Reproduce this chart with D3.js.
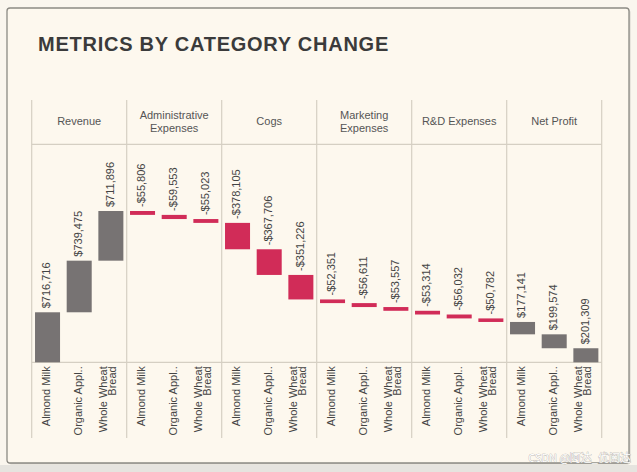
<!DOCTYPE html>
<html>
<head>
<meta charset="utf-8">
<script src="https://cdn.jsdelivr.net/npm/d3@7"></script>
<style>
  html, body { margin: 0; padding: 0; background: #f6f3ec; }
  svg { display: block; }
</style>
</head>
<body>
<svg id="chart" width="637" height="472"></svg>
<script>
const metrics = ["Revenue", "Administrative Expenses", "Cogs", "Marketing Expenses", "R&D Expenses", "Net Profit"];
const products = ["Almond Milk", "Organic Appl..", "Whole Wheat Bread"];
const revenue = [716716, 739475, 711896];
const adminExp = [-55806, -59553, -55023];
const cogs = [-378105, -367706, -351226];
const marketingExp = [-52351, -56611, -53557];
const rdExp = [-53314, -56032, -50782];
const netProfit = [-177141, -199574, -201309];
const seriesValues = [revenue, adminExp, cogs, marketingExp, rdExp, netProfit];
const barKind = ["total", "cost", "cost", "cost", "cost", "total"];

const W = 637, H = 472;
const svg = d3.select("#chart");

// background strip & card
svg.append("rect").attr("x", 0).attr("y", 0).attr("width", W).attr("height", H).attr("fill", "#faf6ee");
svg.append("rect").attr("x", 0).attr("y", 465).attr("width", W).attr("height", 7).attr("fill", "#e6e4df");
svg.append("rect").attr("x", 8.5).attr("y", 9.5).attr("width", 622).attr("height", 455).attr("rx", 3)
  .attr("fill", "#d6d3cc");
svg.append("rect").attr("x", 7).attr("y", 8).attr("width", 622).attr("height", 455).attr("rx", 3)
  .attr("fill", "#fdf8ee").attr("stroke", "#8c8a84").attr("stroke-width", 1.3);

svg.append("text").attr("x", 38).attr("y", 51)
  .attr("font-family", "Liberation Sans, Arial, sans-serif").attr("font-weight", "bold")
  .attr("font-size", 20).attr("letter-spacing", 0.75).attr("fill", "#3b3b3b").text("METRICS BY CATEGORY CHANGE");

// layout
const left = 31.7, right = 601.7, headerTop = 100, headerBottom = 144.3, axisY = 362.3, labelBottom = 438;
const fx = d3.scaleBand().domain(metrics).range([left, right]).padding(0);
const x = d3.scaleBand().domain(products).range([0, fx.bandwidth()]).paddingInner(0.21).paddingOuter(0.105);

// build waterfall
const rows = [];
let run = 0;
metrics.forEach((m, i) => {
  products.forEach((p, j) => {
    const v = seriesValues[i][j];
    const start = run;
    run += v;
    rows.push({ metric: m, product: p, value: v, start, end: run, kind: barKind[i] });
  });
});
const maxTotal = d3.sum(revenue);
const y = d3.scaleLinear().domain([0, maxTotal]).range([axisY, 211]);

const gridColor = "#d5cfc3";
const g = svg.append("g");
fx.domain().concat(["_end"]).forEach((m, i) => {
  const xx = i < metrics.length ? fx(m) : right;
  g.append("line").attr("x1", xx).attr("x2", xx).attr("y1", headerTop).attr("y2", labelBottom)
    .attr("stroke", gridColor).attr("stroke-width", 1.2);
});
g.append("line").attr("x1", left).attr("x2", right).attr("y1", headerBottom).attr("y2", headerBottom)
  .attr("stroke", gridColor).attr("stroke-width", 1.2);
g.append("line").attr("x1", left).attr("x2", right).attr("y1", axisY).attr("y2", axisY)
  .attr("stroke", gridColor).attr("stroke-width", 1.2);

// headers
const font = "Liberation Sans, Arial, sans-serif";
metrics.forEach(m => {
  const cx = fx(m) + fx.bandwidth() / 2;
  const words = m === "Administrative Expenses" ? ["Administrative", "Expenses"]
              : m === "Marketing Expenses" ? ["Marketing", "Expenses"] : [m];
  const t = g.append("text").attr("text-anchor", "middle").attr("font-family", font)
    .attr("font-size", 11).attr("fill", "#555");
  const y0 = words.length === 1 ? 125 : 118.5;
  words.forEach((w, k) => t.append("tspan").attr("x", cx).attr("y", y0 + k * 13).text(w));
});

// bars
const fmt = v => (v < 0 ? "-$" : "$") + d3.format(",")(Math.abs(v));
rows.forEach(r => {
  const x0 = fx(r.metric) + x(r.product);
  const top = Math.max(r.start, r.end), bot = Math.min(r.start, r.end);
  const isCost = r.kind === "cost";
  g.append("rect").attr("x", x0).attr("width", x.bandwidth())
    .attr("y", y(top)).attr("height", Math.max(1, y(bot) - y(top)))
    .attr("fill", isCost ? "#d12c58" : "#777373");
  g.append("text")
    .attr("transform", `translate(${x0 + x.bandwidth() / 2 - 1},${y(top) - 4}) rotate(-90)`)
    .attr("dy", "0.35em").attr("font-family", font).attr("font-size", 11).attr("fill", "#444")
    .text(fmt(r.metric === "Net Profit" ? -r.value : r.value));
});

// x-axis labels
metrics.forEach(m => {
  const ax = d3.axisBottom(x).tickSize(0).tickFormat("");
  const ga = g.append("g").attr("transform", `translate(${fx(m)},${axisY})`).call(ax);
  ga.select(".domain").remove();
  products.forEach(p => {
    const cx = fx(m) + x(p) + x.bandwidth() / 2;
    const lines = p === "Whole Wheat Bread" ? ["Whole Wheat", "Bread"] : [p];
    lines.forEach((ln, k) => {
      const off = lines.length === 1 ? -1.5 : (k === 0 ? -7.5 : 1.5);
      g.append("text").attr("transform", `translate(${cx + off},${axisY + 4}) rotate(-90)`)
        .attr("dy", "0.35em").attr("text-anchor", "end").attr("font-family", font)
        .attr("font-size", 11).attr("fill", "#444").text(ln);
    });
  });
});

// watermark
svg.append("text").attr("x", 631).attr("y", 462).attr("text-anchor", "end")
  .attr("font-family", "Noto Sans CJK SC, sans-serif").attr("font-size", 11)
  .attr("fill", "#ffffff").attr("stroke", "#a9a7a2").attr("stroke-width", 0.6)
  .attr("paint-order", "stroke").text("CSDN @阿达_优阅达");
</script>
</body>
</html>
